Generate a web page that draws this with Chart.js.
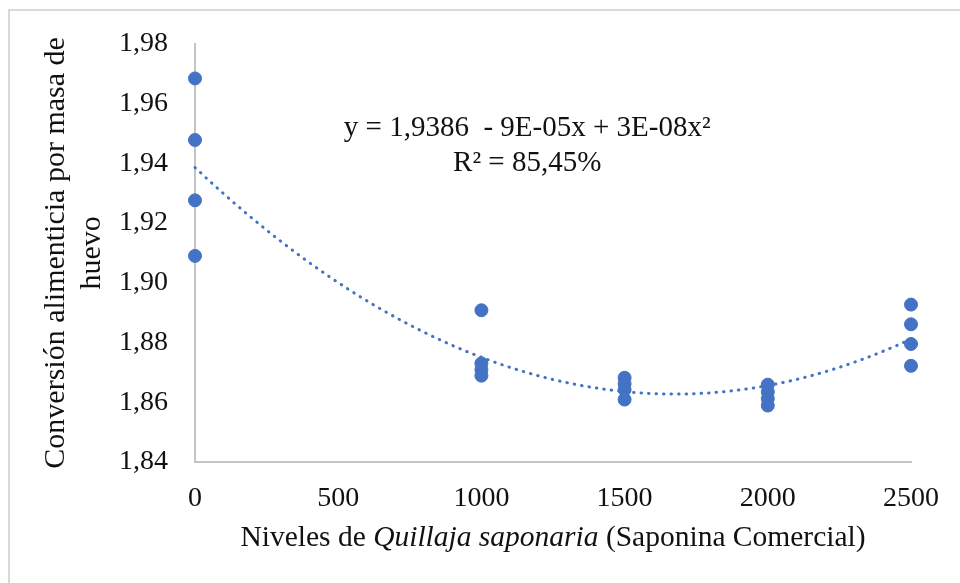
<!DOCTYPE html>
<html>
<head>
<meta charset="utf-8">
<script src="https://cdn.jsdelivr.net/npm/chart.js@4.4.1/dist/chart.umd.min.js"></script>
<style>
    html, body { margin: 0; padding: 0; background: #fff; }
    #wrap { width: 960px; height: 583px; position: relative; }
</style>
</head>
<body>
<div id="wrap"><canvas id="chart" width="960" height="583"></canvas></div>
<script>
// ===================================
// Data
// ===================================
const niveles = [0, 0, 0, 0, 1000, 1000, 1000, 1000, 1500, 1500, 1500, 1500, 2000, 2000, 2000, 2000, 2500, 2500, 2500, 2500];
const conversion = [1.9684, 1.9478, 1.9276, 1.9090,
                    1.8908, 1.8730, 1.8709, 1.8689,
                    1.8682, 1.8662, 1.8642, 1.8609,
                    1.8659, 1.8635, 1.8612, 1.8589,
                    1.8927, 1.8861, 1.8795, 1.8722];
const xTicks = [0, 500, 1000, 1500, 2000, 2500];
const yTicks = [1.84, 1.86, 1.88, 1.90, 1.92, 1.94, 1.96, 1.98];
const ecuacion = 'y = 1,9386  - 9E-05x + 3E-08x\u00B2';
const r2Texto = 'R\u00B2 = 85,45%';
const yTitulo = ['Conversión alimenticia por masa de', 'huevo'];

const FONT = '"Liberation Serif", "Times New Roman", serif';
const AZUL = '#4472C4';

// Quadratic least squares fit (same as the Excel polynomial trendline)
function ajusteCuadratico(xs, ys) {
    let s = [0, 0, 0, 0, 0], t = [0, 0, 0];
    xs.forEach((x, i) => {
        const u = x / 1000;
        for (let k = 0; k < 5; k++) s[k] += Math.pow(u, k);
        for (let k = 0; k < 3; k++) t[k] += ys[i] * Math.pow(u, k);
    });
    const A = [[s[0], s[1], s[2], t[0]], [s[1], s[2], s[3], t[1]], [s[2], s[3], s[4], t[2]]];
    for (let c = 0; c < 3; c++) {
        for (let r = c + 1; r < 3; r++) {
            const f = A[r][c] / A[c][c];
            for (let k = c; k < 4; k++) A[r][k] -= f * A[c][k];
        }
    }
    const b = [0, 0, 0];
    for (let r = 2; r >= 0; r--) {
        let v = A[r][3];
        for (let k = r + 1; k < 3; k++) v -= A[r][k] * b[k];
        b[r] = v / A[r][r];
    }
    return x => b[0] + b[1] * (x / 1000) + b[2] * Math.pow(x / 1000, 2);
}

const tendencia = ajusteCuadratico(niveles, conversion);
const curva = [];
for (let x = 0; x <= 2500; x += 25) curva.push({ x: x, y: tendencia(x) });

const puntos = niveles.map((x, i) => ({ x: x, y: conversion[i] }));

// Frame, equation and x title (mixed italic) drawn on canvas
const extras = {
    id: 'extras',
    beforeDraw(chart) {
        const ctx = chart.ctx;
        ctx.save();
        ctx.strokeStyle = '#d9d9d9';
        ctx.lineWidth = 2;
        ctx.strokeRect(9, 10, 1000, 1000);
        ctx.restore();
    },
    afterDraw(chart) {
        const ctx = chart.ctx;
        const a = chart.chartArea;
        ctx.save();
        ctx.fillStyle = '#111';
        ctx.textBaseline = 'middle';
        ctx.textAlign = 'center';
        ctx.font = '29px ' + FONT;
        const cx = a.left + (a.right - a.left) * 0.464;
        ctx.fillText(ecuacion, cx, a.top + 85);
        ctx.fillText(r2Texto, cx, a.top + 120);

        // x axis title
        const partes = [
            { t: 'Niveles de ', it: false },
            { t: 'Quillaja saponaria', it: true },
            { t: ' (Saponina Comercial)', it: false }
        ];
        let total = 0;
        partes.forEach(p => {
            ctx.font = (p.it ? 'italic ' : '') + '29.5px ' + FONT;
            p.w = ctx.measureText(p.t).width;
            total += p.w;
        });
        let x = (a.left + a.right) / 2 - total / 2;
        ctx.textAlign = 'left';
        partes.forEach(p => {
            ctx.font = (p.it ? 'italic ' : '') + '29.5px ' + FONT;
            ctx.fillText(p.t, x, a.bottom + 76);
            x += p.w;
        });
        ctx.restore();
    }
};

new Chart(document.getElementById('chart'), {
    type: 'scatter',
    data: {
        datasets: [{
            label: 'Conversión',
            data: puntos,
            backgroundColor: AZUL,
            borderColor: AZUL,
            pointRadius: 6.5,
            pointHoverRadius: 7,
            clip: false,
            order: 0
        }, {
            label: 'Tendencia',
            type: 'line',
            data: curva,
            borderColor: AZUL,
            borderWidth: 3,
            borderDash: [0.5, 7],
            borderCapStyle: 'round',
            pointRadius: 0,
            fill: false,
            tension: 0,
            clip: false,
            order: 1
        }]
    },
    options: {
        responsive: false,
        animation: false,
        layout: { padding: { left: 0, top: 40, right: 49, bottom: 0 } },
        plugins: {
            legend: { display: false },
            tooltip: { enabled: false }
        },
        scales: {
            x: {
                type: 'linear',
                min: 0,
                max: 2500,
                afterFit: s => { s.height = 121; },
                afterBuildTicks: s => { s.ticks = xTicks.map(v => ({ value: v })); },
                grid: { display: false, drawTicks: false },
                border: { display: true, color: '#c4c4c4', width: 2 },
                ticks: {
                    padding: 20,
                    color: '#111',
                    font: { family: FONT, size: 28 },
                    callback: v => String(v)
                }
            },
            y: {
                min: 1.84,
                max: 1.98,
                afterFit: s => { s.width = 195; },
                afterBuildTicks: s => { s.ticks = yTicks.map(v => ({ value: v })); },
                grid: { display: false, drawTicks: false },
                border: { display: true, color: '#c4c4c4', width: 2 },
                ticks: {
                    padding: 27,
                    color: '#111',
                    font: { family: FONT, size: 28 },
                    callback: v => v.toFixed(2).replace('.', ',')
                },
                title: {
                    display: true,
                    text: yTitulo,
                    color: '#111',
                    font: { family: FONT, size: 30, lineHeight: 1.17 },
                    padding: { top: 39, bottom: 0 }
                }
            }
        }
    },
    plugins: [extras]
});
</script>
</body>
</html>
